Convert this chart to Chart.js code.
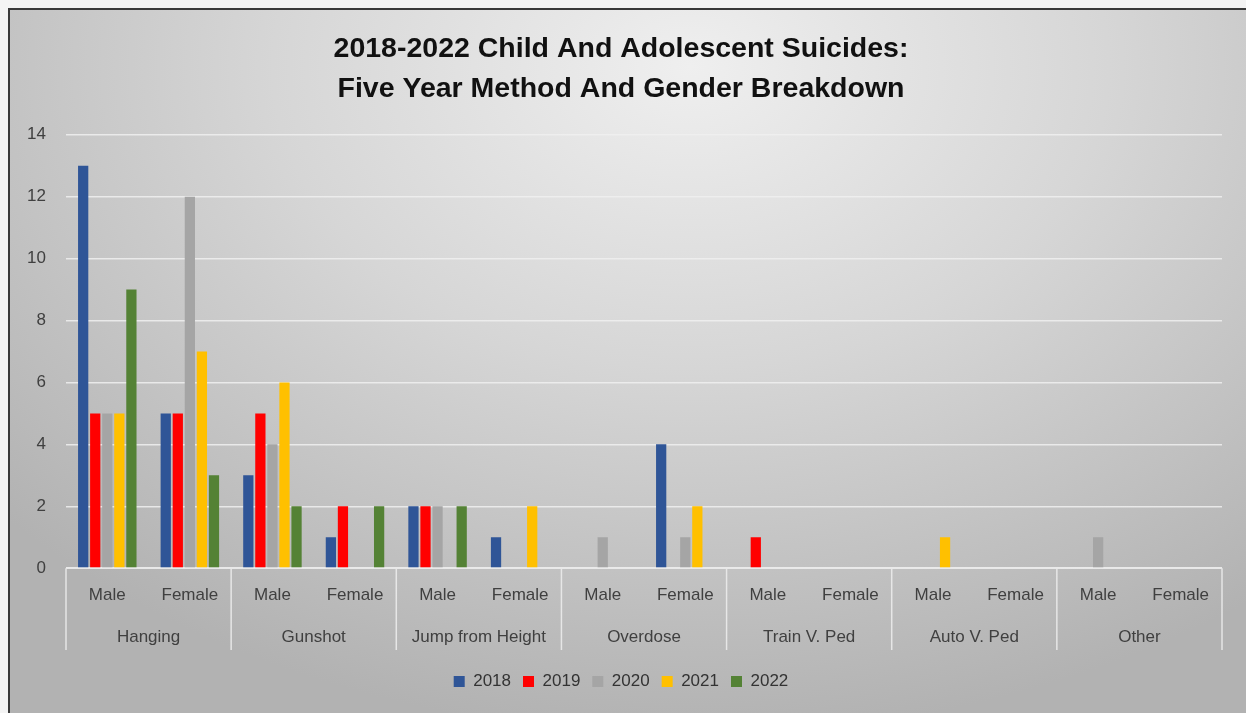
<!DOCTYPE html>
<html>
<head>
<meta charset="utf-8">
<script src="https://cdn.jsdelivr.net/npm/chart.js@4"></script>
<style>
  html, body { margin: 0; padding: 0; background: #f4f4f4; }
  #frame {
    position: absolute; left: 8px; top: 8px; width: 1238px; height: 705px;
    border-top: 2px solid #3a3a3a; border-left: 2px solid #3a3a3a;
    background: radial-gradient(ellipse 75% 95% at 55% 8%, #efefef 0%, #d6d6d6 45%, #b2b2b2 100%);
  }
  #wrap { position: absolute; left: 0; top: 0; width: 1236px; height: 703px; }
</style>
</head>
<body>
<div id="frame"><div id="wrap"><canvas id="suicideChart"></canvas></div></div>
<script>
// categorias: metodo y genero
var metodos = ['Hanging', 'Gunshot', 'Jump from Height', 'Overdose', 'Train V. Ped', 'Auto V. Ped', 'Other'];
var generos = ['Male', 'Female'];
var years = ['2018', '2019', '2020', '2021', '2022'];

// valores por año, en orden Hanging M/F, Gunshot M/F, Jump M/F, Overdose M/F, Train M/F, Auto M/F, Other M/F
var v2018 = [13, 5, 3, 1, 2, 1, 0, 4, 0, 0, 0, 0, 0, 0];
var v2019 = [5, 5, 5, 2, 2, 0, 0, 0, 1, 0, 0, 0, 0, 0];
var v2020 = [5, 12, 4, 0, 2, 0, 1, 1, 0, 0, 0, 0, 1, 0];
var v2021 = [5, 7, 6, 0, 0, 2, 0, 2, 0, 0, 1, 0, 0, 0];
var v2022 = [9, 3, 2, 2, 2, 0, 0, 0, 0, 0, 0, 0, 0, 0];

var yTicks = [0, 2, 4, 6, 8, 10, 12, 14];

var colores = ['#2f5597', '#ff0000', '#a5a5a5', '#ffc000', '#548235'];
var series = [v2018, v2019, v2020, v2021, v2022];

var etiquetas = [];
metodos.forEach(function () { generos.forEach(function (g) { etiquetas.push(g); }); });

var fuente = "'Liberation Sans', Arial, sans-serif";
var huecoLeyenda = 8;

// lineas de tabla bajo el eje x
var separadores = {
  id: 'separadores',
  afterDraw: function (chart) {
    var ctx = chart.ctx;
    var x = chart.scales.x;
    var x2 = chart.scales.x2;
    var area = chart.chartArea;
    var half = (x.getPixelForValue(1) - x.getPixelForValue(0)) / 2;
    var fin = x2.bottom - huecoLeyenda - 3;
    ctx.save();
    ctx.strokeStyle = 'rgba(235,235,235,0.9)';
    ctx.lineWidth = 1.5;
    ctx.beginPath();
    ctx.moveTo(area.left, area.bottom);
    ctx.lineTo(area.right, area.bottom);
    for (var i = 0; i <= etiquetas.length; i += 2) {
      var px = x.getPixelForValue(i) - half;
      ctx.moveTo(px, area.bottom);
      ctx.lineTo(px, fin);
    }
    ctx.stroke();
    ctx.restore();
  }
};

var ctx = document.getElementById('suicideChart').getContext('2d');
var chart = new Chart(ctx, {
  type: 'bar',
  data: {
    labels: etiquetas,
    datasets: years.map(function (y, i) {
      return {
        label: y,
        data: series[i],
        backgroundColor: colores[i],
        categoryPercentage: 0.73,
        barPercentage: 0.85
      };
    })
  },
  options: {
    responsive: true,
    maintainAspectRatio: false,
    animation: false,
    layout: { padding: { left: 10, right: 24, top: 19, bottom: 13 } },
    plugins: {
      title: {
        display: true,
        text: ['2018-2022 Child And Adolescent Suicides:', 'Five Year Method And Gender Breakdown'],
        color: '#111',
        font: { family: fuente, size: 28.5, weight: 'bold', lineHeight: 1.4 },
        padding: { top: 0, bottom: 26 }
      },
      legend: {
        position: 'bottom',
        labels: {
          color: '#333',
          font: { family: fuente, size: 17 },
          boxWidth: 11,
          boxHeight: 11,
          padding: 12
        }
      },
      tooltip: { enabled: false }
    },
    scales: {
      x: {
        grid: { display: false },
        border: { display: false },
        ticks: { color: '#404040', font: { family: fuente, size: 17 }, padding: 9, autoSkip: false, maxRotation: 0 }
      },
      x2: {
        type: 'category',
        position: 'bottom',
        labels: metodos,
        offset: true,
        grid: { display: false },
        border: { display: false },
        afterFit: function (s) { s.height += huecoLeyenda; },
        ticks: { color: '#404040', font: { family: fuente, size: 17 }, padding: 5, autoSkip: false, maxRotation: 0 }
      },
      y: {
        min: 0,
        max: 14,
        afterBuildTicks: function (s) { s.ticks = yTicks.map(function (v) { return { value: v }; }); },
        afterFit: function (s) { s.width = 46; },
        grid: { color: 'rgba(240,240,240,0.85)', lineWidth: 1.5, drawTicks: false },
        border: { display: false },
        ticks: { color: '#404040', font: { family: fuente, size: 17 }, padding: 20 }
      }
    }
  },
  plugins: [separadores]
});
</script>
</body>
</html>
